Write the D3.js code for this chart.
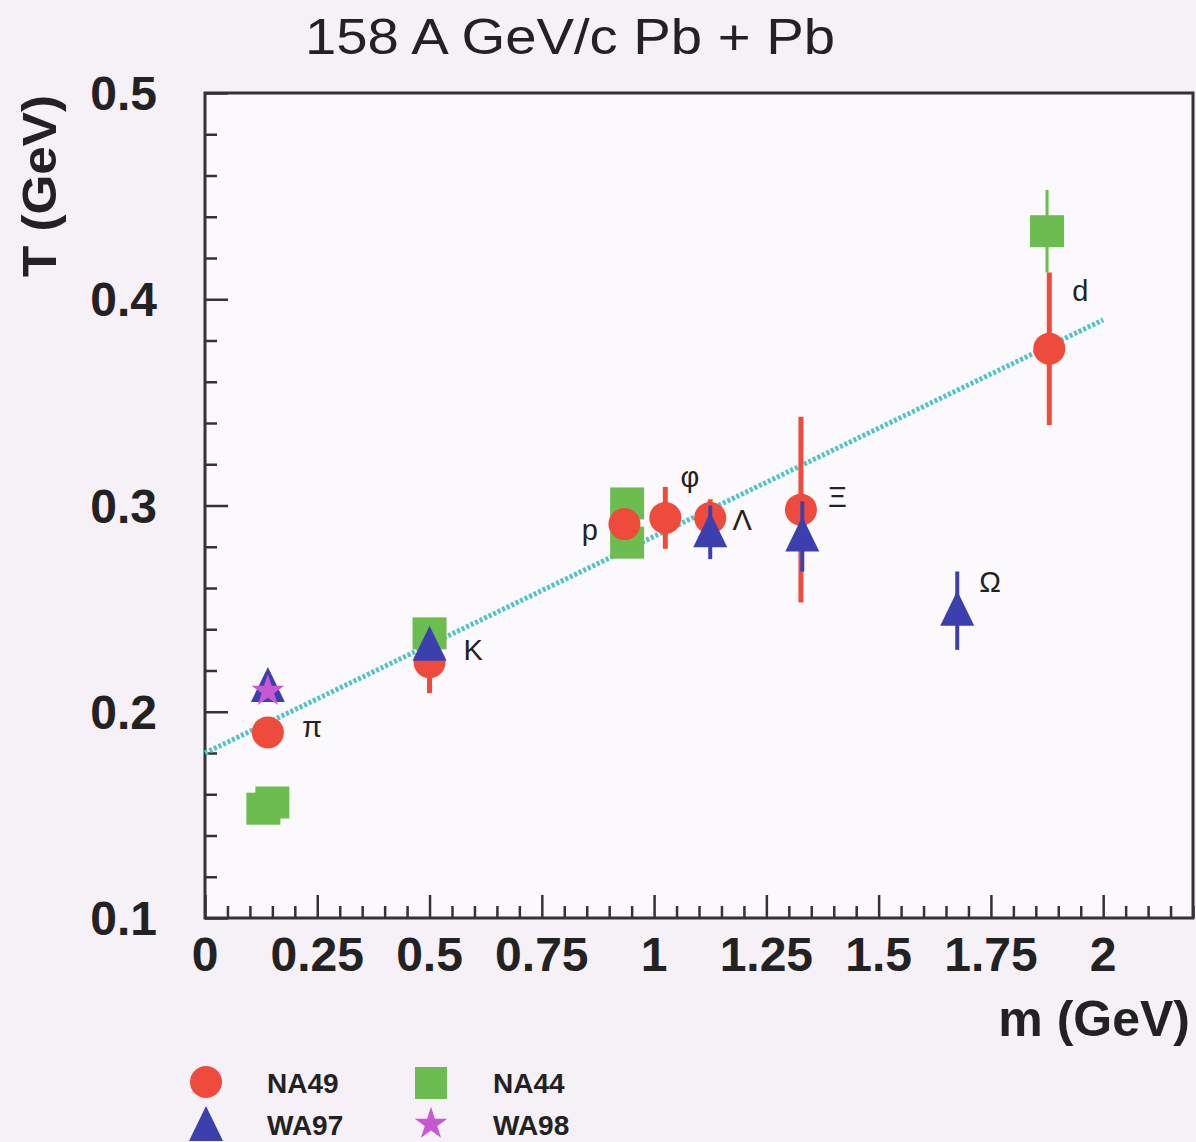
<!DOCTYPE html>
<html>
<head>
<meta charset="utf-8">
<script src="https://cdn.jsdelivr.net/npm/d3@7"></script>
<style>
  body { margin: 0; background: #f6f0f7; }
  svg { display: block; }
</style>
</head>
<body>
<div id="chart"></div>
<script>
// --- data (m in GeV, T in GeV) ---
var na49 = [
  { m: 0.14,  T: 0.190, err: 0 },
  { m: 0.50,  T: 0.224, err: 0.015 },
  { m: 0.934, T: 0.291, err: 0 },
  { m: 1.025, T: 0.294, err: 0.015 },
  { m: 1.125, T: 0.294, err: 0.009 },
  { m: 1.327, T: 0.298, err: 0.045 },
  { m: 1.88,  T: 0.376, err: 0.037 }
];
var na44 = [
  { m: 0.13,  T: 0.153, err: 0 },
  { m: 0.15,  T: 0.156, err: 0 },
  { m: 0.50,  T: 0.238, err: 0 },
  { m: 0.94,  T: 0.301, err: 0 },
  { m: 0.94,  T: 0.282, err: 0 },
  { m: 1.875, T: 0.433, err: 0.020 }
];
var wa97 = [
  { m: 0.14,  T: 0.212, err: 0 },
  { m: 0.50,  T: 0.232, err: 0 },
  { m: 1.125, T: 0.287, err: 0.013 },
  { m: 1.33,  T: 0.285, err: 0.017 },
  { m: 1.675, T: 0.249, err: 0.019 }
];
var wa98 = [
  { m: 0.14, T: 0.210 }
];
var fitLine = [ { m: 0, T: 0.180 }, { m: 2, T: 0.390 } ];
var particleLabels = [
  { text: "π", m: 0.238, T: 0.1926 },
  { text: "K", m: 0.597, T: 0.230 },
  { text: "p", m: 0.857, T: 0.288 },
  { text: "φ", m: 1.080, T: 0.314 },
  { text: "Λ", m: 1.196, T: 0.293 },
  { text: "Ξ", m: 1.408, T: 0.304 },
  { text: "Ω", m: 1.748, T: 0.263 },
  { text: "d", m: 1.949, T: 0.404 }
];
var xMajor = [0, 0.25, 0.5, 0.75, 1, 1.25, 1.5, 1.75, 2];
var xMajorLabels = ["0", "0.25", "0.5", "0.75", "1", "1.25", "1.5", "1.75", "2"];
var yMajor = [0.1, 0.2, 0.3, 0.4, 0.5];
var yMajorLabels = ["0.1", "0.2", "0.3", "0.4", "0.5"];
var legendItems = ["NA49", "NA44", "WA97", "WA98"];

var RED = "#ef4b3d", GREEN = "#6cbd4f", BLUE = "#3b40ae", PINK = "#c957d3";

var W = 1196, H = 1142;
var svg = d3.select("#chart").append("svg").attr("width", W).attr("height", H);
var FONT = "'Liberation Sans', Arial, Helvetica, sans-serif";

var x = d3.scaleLinear().domain([0, 2.2]).range([205, 1193]);
var y = d3.scaleLinear().domain([0.1, 0.5]).range([918, 93]);

// plot background
svg.append("rect").attr("x", 205).attr("y", 93).attr("width", 988).attr("height", 825)
  .attr("fill", "#fcf9fc");

// minor/major ticks, each set in its own group
var xMinor = d3.range(0, 2.2001, 0.05).filter(function(v) { return Math.abs(v / 0.25 - Math.round(v / 0.25)) > 1e-6; });
var yMinor = d3.range(0.1, 0.5001, 0.02).filter(function(v) { return Math.abs(v / 0.1 - Math.round(v / 0.1)) > 1e-6; });

function tickGroup(axis, tx, ty) {
  var g = svg.append("g").attr("transform", "translate(" + tx + "," + ty + ")").call(axis);
  g.selectAll(".domain").remove();
  g.selectAll("line").attr("stroke", "#333").attr("stroke-width", 2.5);
}
tickGroup(d3.axisBottom(x).tickValues(xMinor).tickSize(-12).tickFormat(""), 0, 918);
tickGroup(d3.axisBottom(x).tickValues(xMajor).tickSize(-23).tickFormat(""), 0, 918);
tickGroup(d3.axisLeft(y).tickValues(yMinor).tickSize(-12).tickFormat(""), 205, 0);
tickGroup(d3.axisLeft(y).tickValues(yMajor).tickSize(-23).tickFormat(""), 205, 0);

// frame
svg.append("rect").attr("x", 205).attr("y", 93).attr("width", 988).attr("height", 825)
  .attr("fill", "none").attr("stroke", "#333").attr("stroke-width", 3);

// tick labels
svg.selectAll(".xl").data(xMajor).enter().append("text")
  .attr("x", function(d) { return x(d); }).attr("y", 971)
  .attr("text-anchor", "middle").attr("font-family", FONT).attr("font-weight", "bold")
  .attr("font-size", 48).attr("fill", "#222")
  .text(function(d, i) { return xMajorLabels[i]; });

svg.selectAll(".yl").data(yMajor).enter().append("text")
  .attr("x", 157).attr("y", function(d) { return y(d) + 17; })
  .attr("text-anchor", "end").attr("font-family", FONT).attr("font-weight", "bold")
  .attr("font-size", 48).attr("fill", "#222")
  .text(function(d, i) { return yMajorLabels[i]; });

// axis titles
svg.append("text").attr("x", 1190).attr("y", 1036).attr("text-anchor", "end")
  .attr("font-family", FONT).attr("font-weight", "bold").attr("font-size", 50).attr("fill", "#222")
  .text("m (GeV)");
svg.append("text").attr("transform", "translate(56,277) rotate(-90)").attr("text-anchor", "start")
  .attr("font-family", FONT).attr("font-weight", "bold").attr("font-size", 48).attr("fill", "#222")
  .attr("textLength", 182).attr("lengthAdjust", "spacingAndGlyphs")
  .text("T (GeV)");

// title
svg.append("text").attr("x", 305).attr("y", 54).attr("font-family", FONT)
  .attr("font-size", 50).attr("fill", "#222")
  .attr("textLength", 530).attr("lengthAdjust", "spacingAndGlyphs")
  .text("158 A GeV/c Pb + Pb");

// fit line
svg.append("path").datum(fitLine)
  .attr("d", d3.line().x(function(d) { return x(d.m); }).y(function(d) { return y(d.T); }))
  .attr("stroke", "#52c3c6").attr("stroke-width", 5).attr("stroke-dasharray", "3,2").attr("fill", "none");

// error bars helper
function errorBars(data, color, width) {
  svg.append("g").selectAll("line").data(data.filter(function(d) { return d.err > 0; })).enter().append("line")
    .attr("x1", function(d) { return x(d.m); }).attr("x2", function(d) { return x(d.m); })
    .attr("y1", function(d) { return y(d.T - d.err); }).attr("y2", function(d) { return y(d.T + d.err); })
    .attr("stroke", color).attr("stroke-width", width);
}

var triPath = "M0,-20L17,15L-17,15Z";
var starPath = d3.symbol().type(d3.symbolStar).size(330)();

// NA44 squares
errorBars(na44, GREEN, 3);
svg.append("g").selectAll("rect").data(na44).enter().append("rect")
  .attr("x", function(d) { return x(d.m) - 17; }).attr("y", function(d) { return y(d.T) - 16; })
  .attr("width", 34).attr("height", 32).attr("fill", GREEN);

// NA49 circles
errorBars(na49, RED, 5);
svg.append("g").selectAll("circle").data(na49).enter().append("circle")
  .attr("cx", function(d) { return x(d.m); }).attr("cy", function(d) { return y(d.T); })
  .attr("r", 16).attr("fill", RED);

// WA97 triangles
errorBars(wa97, BLUE, 4);
svg.append("g").selectAll("path").data(wa97).enter().append("path")
  .attr("transform", function(d) { return "translate(" + x(d.m) + "," + y(d.T) + ")"; })
  .attr("d", triPath).attr("fill", BLUE);

// WA98 stars
svg.append("g").selectAll("path").data(wa98).enter().append("path")
  .attr("transform", function(d) { return "translate(" + x(d.m) + "," + y(d.T) + ")"; })
  .attr("d", starPath).attr("fill", PINK);

// particle labels
svg.selectAll(".pl").data(particleLabels).enter().append("text")
  .attr("x", function(d) { return x(d.m); }).attr("y", function(d) { return y(d.T) + 10; })
  .attr("text-anchor", "middle").attr("font-family", FONT).attr("font-size", 29).attr("fill", "#222")
  .text(function(d) { return d.text; });

// legend
var leg = svg.append("g").attr("font-family", FONT).attr("font-weight", "bold").attr("font-size", 28).attr("fill", "#222");
leg.append("circle").attr("cx", 206).attr("cy", 1082).attr("r", 16).attr("fill", RED);
leg.append("rect").attr("x", 415).attr("y", 1067).attr("width", 32).attr("height", 32).attr("fill", GREEN);
leg.append("path").attr("transform", "translate(206,1126)").attr("d", triPath).attr("fill", BLUE);
leg.append("path").attr("transform", "translate(431,1124)").attr("d", starPath).attr("fill", PINK);
var legPos = [[267, 1093], [493, 1093], [267, 1135], [493, 1135]];
leg.selectAll("text").data(legendItems).enter().append("text")
  .attr("x", function(d, i) { return legPos[i][0]; }).attr("y", function(d, i) { return legPos[i][1]; })
  .text(function(d) { return d; });
</script>
</body>
</html>
